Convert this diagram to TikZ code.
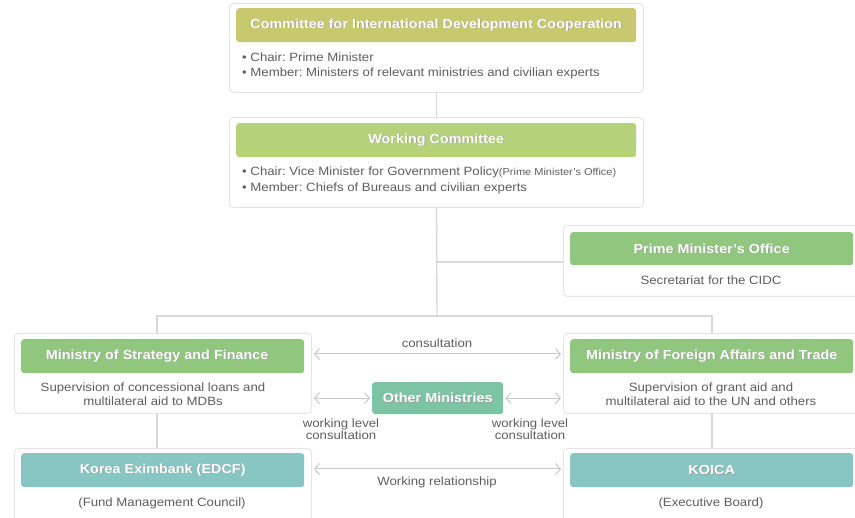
\documentclass[tikz,border=0pt]{standalone}
\usepackage{fontspec}
\setmainfont{Liberation Sans}[FakeStretch=1.1]
\usetikzlibrary{arrows.meta,calc}
\definecolor{cidcc}{HTML}{C8C96F}
\definecolor{wcc}{HTML}{B5D27A}
\definecolor{grc}{HTML}{90C67D}
\definecolor{omc}{HTML}{7DC4A5}
\definecolor{tlc}{HTML}{88C6C4}
\definecolor{txtc}{HTML}{5E5E5E}
\definecolor{linec}{HTML}{D8D8D8}
\definecolor{arrc}{HTML}{C8C8C8}
\definecolor{boxc}{HTML}{E4E4E4}
\newcommand\shtxt[1]{\makebox[0pt][l]{\kern0.7pt\raisebox{-0.7pt}{\color{black!40}#1}}#1}
\frenchspacing
\begin{document}
\begin{tikzpicture}[x=1pt,y=-1pt,
 outer/.style={draw=boxc, fill=white, rounded corners=4pt, line width=0.9pt, inner sep=0pt, anchor=north west},
 head/.style={rounded corners=3pt, inner sep=0pt, anchor=north west, minimum height=34pt, text=white, font=\fontsize{13.1}{15}\selectfont\bfseries},
 body/.style={text=txtc, font=\fontsize{12}{14}\selectfont, inner sep=0pt, align=center},
 conn/.style={draw=linec, line width=1.4pt},
 biarrow/.style={draw=arrc, line width=1pt, {Straight Barb[length=5pt,width=11pt]}-{Straight Barb[length=5pt,width=11pt]}},
 lbl/.style={text=txtc, font=\fontsize{12}{12}\selectfont, inner sep=0pt, align=center}]
\useasboundingbox (0,0) rectangle (855,518);

% CIDC
\node[outer, minimum width=414pt, minimum height=89pt] (cidcbox) at (229,3) {};
\node[head, fill=cidcc, minimum width=400pt] (cidc) at (236,8) {\shtxt{Committee for International Development Cooperation}};
\node[body, anchor=west] (cidc1) at (242,57) {• Chair: Prime Minister};
\node[body, anchor=west] (cidc2) at (242,73) {• Member: Ministers of relevant ministries and civilian experts};

% Working Committee
\node[outer, minimum width=414pt, minimum height=90pt] (wcbox) at (229,117) {};
\node[head, fill=wcc, minimum width=400pt] (wc) at (236,123) {\shtxt{Working Committee}};
\node[body, anchor=west] (wc1) at (242,172) {• Chair: Vice Minister for Government Policy{\fontsize{10}{12}\selectfont(Prime Minister's Office)}};
\node[body, anchor=west] (wc2) at (242,188) {• Member: Chiefs of Bureaus and civilian experts};

% PMO
\node[outer, minimum width=300pt, minimum height=71pt] (pmobox) at (563,225) {};
\node[head, fill=grc, minimum width=283pt, minimum height=33pt] (pmo) at (570,232) {\shtxt{Prime Minister's Office}};
\node[body] (pmot) at (711,280) {Secretariat for the CIDC};

% MOSF
\node[outer, minimum width=297pt, minimum height=80pt] (mosfbox) at (14,333) {};
\node[head, fill=grc, minimum width=283pt] (mosf) at (21,339) {\hspace*{-11pt}\shtxt{Ministry of Strategy and Finance}};
\node[body] (mosft) at (153,394) {Supervision of concessional loans and\\multilateral aid to MDBs};

% MOFAT
\node[outer, minimum width=300pt, minimum height=80pt] (mofatbox) at (563,333) {};
\node[head, fill=grc, minimum width=283pt] (mofat) at (570,339) {\shtxt{Ministry of Foreign Affairs and Trade}};
\node[body] (mofatt) at (711,394) {Supervision of grant aid and\\multilateral aid to the UN and others};

% Other Ministries
\node[head, fill=omc, minimum width=131pt, minimum height=32pt] (om) at (372,382) {\shtxt{Other Ministries}};

% Eximbank
\node[outer, minimum width=297pt, minimum height=80pt] (eximbox) at (14,448) {};
\node[head, fill=tlc, minimum width=283pt] (exim) at (21,453) {\shtxt{Korea Eximbank (EDCF)}};
\node[body] (eximt) at (162,503) {(Fund Management Council)};

% KOICA
\node[outer, minimum width=300pt, minimum height=80pt] (koicabox) at (563,448) {};
\node[head, fill=tlc, minimum width=283pt] (koica) at (570,453) {\shtxt{KOICA}};
\node[body] (koicat) at (711,503) {(Executive Board)};

% connectors
\coordinate (jp) at (437,262);
\coordinate (jm) at (437,316);
\coordinate (jl) at (157,316);
\coordinate (jr) at (712,316);
\draw[conn] (cidcbox.south) -- (wcbox.north);
\draw[conn] (wcbox.south) -- (jm);
\draw[conn] (jp) -- (jp -| pmobox.west);
\draw[conn] (mosfbox.north -| jl) -- (jl) -- (jr) -- (jr |- mofatbox.north);
\draw[conn] (mosfbox.south -| jl) -- (eximbox.north -| jl);
\draw[conn] (mofatbox.south -| jr) -- (koicabox.north -| jr);

% arrows
\coordinate (ca) at (437,354);
\coordinate (wr) at (437,469);
\draw[biarrow] ($(mosfbox.east |- ca)+(2,0)$) -- ($(mofatbox.west |- ca)+(-2,0)$);
\node[lbl] (consl) at (437,343) {consultation};
\draw[biarrow] ($(mosfbox.east |- om.west)+(2,0)$) -- ($(om.west)+(-2,0)$);
\draw[biarrow] ($(om.east)+(2,0)$) -- ($(mofatbox.west |- om.east)+(-2,0)$);
\node[lbl] (wl1) at (341,429) {working level\\consultation};
\node[lbl] (wl2) at (530,429) {working level\\consultation};
\draw[biarrow] ($(eximbox.east |- wr)+(2,0)$) -- ($(koicabox.west |- wr)+(-2,0)$);
\node[lbl] (wrl) at (437,482) {Working relationship};
\end{tikzpicture}
\end{document}
